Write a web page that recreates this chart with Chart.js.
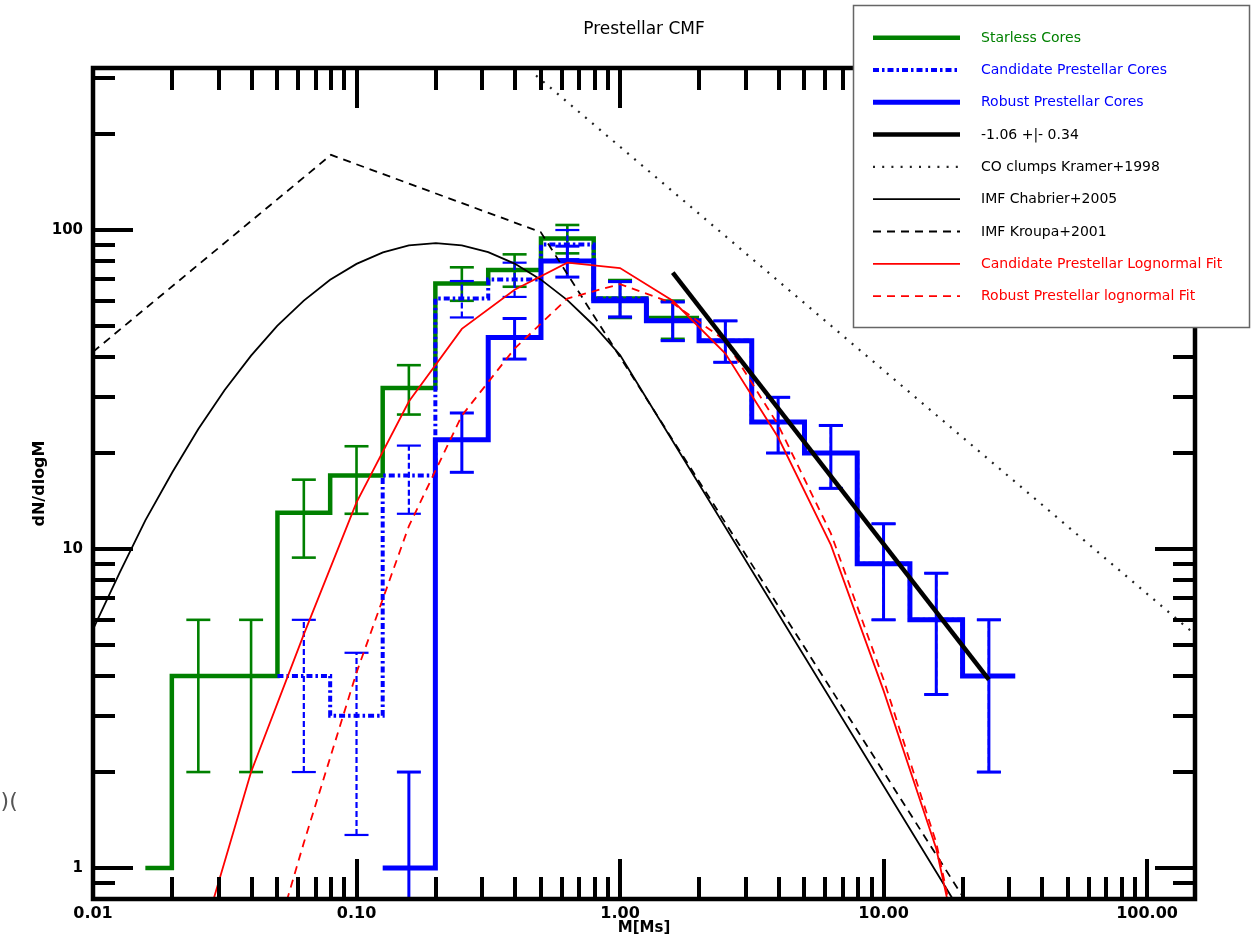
<!DOCTYPE html>
<html>
<head>
<meta charset="utf-8">
<script src="https://cdn.jsdelivr.net/npm/chart.js@4.4.1/dist/chart.umd.min.js"></script>
<style>
  html, body { margin: 0; padding: 0; background: #fff; }
  #wrap { position: relative; width: 1253px; height: 941px; }
</style>
</head>
<body>
<div id="wrap"><canvas id="cmf" width="1253" height="941"></canvas></div>
<script>
// bin centres (0.2 dex bins) in Msun
const binCenters = [0.0158, 0.0251, 0.0398, 0.0631, 0.1, 0.158, 0.251, 0.398, 0.631, 1.0, 1.585, 2.51, 3.98, 6.31, 10, 15.85, 25.1, 39.8];

// dN/dlogM per bin (null = not in series, 0 = empty bin)
const starless  = [1, 4, 4, 13, 17, 32, 68, 75, 94, 61, 53, 0, null, null, null, null, null, null];
const candidate = [null, null, 0, 4, 3, 17, 61, 70, 90, 61, 52, 45, 25, 20, 9, 6, 4, 0];
const robust    = [null, null, null, null, 0, 1, 22, 46, 80, 60, 52, 45, 25, 20, 9, 6, 4, 0];

// error bar ends
const starlessLo = [null, 2, 2, 9.4, 12.9, 26.4, 60, 66.4, 84.5, 53, 45.6, null, null, null, null, null, null, null];
const starlessHi = [null, 6, 6, 16.5, 21, 37.7, 76.4, 83.9, 103.7, 69.7, 60.1, null, null, null, null, null, null, null];
const candLo = [null, null, null, 2, 1.27, 12.9, 53.2, 61.7, 81, 53.4, 45, 38.5, 20, 15.5, 6, 3.5, 2, null];
const candHi = [null, null, null, 6, 4.73, 21.1, 69.2, 79, 100, 68.9, 59.5, 51.9, 29.9, 24.4, 12, 8.4, 6, null];
const robustLo = [null, null, null, null, null, 0, 17.4, 39.4, 71.2, 53.4, 45, 38.5, 20, 15.5, 6, 3.5, 2, null];
const robustHi = [null, null, null, null, null, 2, 26.7, 52.8, 89, 68.9, 59.5, 51.9, 29.9, 24.4, 12, 8.4, 6, null];

// lognormal fits evaluated at the bin centres
const candFit   = [null, 0.55, 2.0, 5.4, 14, 29, 49, 65, 79, 76, 60, 41, 22.4, 10.3, 3.6, 1.15, 0.2, null];
const robustFit = [null, null, 0.33, 1.2, 4.1, 11.8, 26.2, 42.5, 61, 67.7, 59, 45, 24.5, 11.2, 3.9, 1.2, 0.2, null];

// power-law fit to the high-mass tail
const slopeM = [1.585, 25.1];
const slopeV = [73.5, 3.9];

// CO clumps (Kramer+1998)
const coM = [0.48, 150];
const coV = [305, 5.45];

// IMF Chabrier+2005
const chabM = [0.01, 0.0126, 0.0158, 0.02, 0.0251, 0.0316, 0.0398, 0.05, 0.0631, 0.0794, 0.1, 0.126, 0.158, 0.2, 0.251, 0.316, 0.398, 0.501, 0.631, 0.794, 1.0, 20];
const chabV = [5.6, 8.4, 12.3, 17.4, 23.8, 31.5, 40.4, 50.1, 60.1, 69.8, 78.3, 85.1, 89.5, 91, 89.5, 85.2, 78.5, 69.9, 60.3, 50.3, 40.6, 0.71];

// IMF Kroupa+2001
const kroupaM = [0.01, 0.08, 0.5, 30];
const kroupaV = [41.5, 172, 98.5, 0.48];

const xMajor = [0.01, 0.1, 1, 10, 100];
const yMajor = [1, 10, 100];

const GREEN = '#008000', BLUE = '#0000ff', RED = '#ff0000', BLACK = '#000000';

// matplotlib-like 'steps-mid' path, empty bins masked
function stepsMid(ys) {
  const pts = [];
  let prev = -1;
  ys.forEach((v, i) => {
    if (v === null) return;
    const y = v > 0 ? v : null;
    if (prev >= 0) {
      const m = Math.sqrt(binCenters[i] * binCenters[prev]);
      pts.push({x: m, y: ys[prev] > 0 ? ys[prev] : null});
      pts.push({x: m, y: y});
    }
    pts.push({x: binCenters[i], y: y});
    prev = i;
  });
  return pts;
}

// vertical error bars as separate segments; cap flag on ends that get a cap
function errorBars(lo, hi) {
  const pts = [];
  binCenters.forEach((m, i) => {
    if (lo[i] === null || hi[i] === null) return;
    pts.push({x: m, y: lo[i] > 0 ? lo[i] : 0.1, cap: lo[i] > 0});
    pts.push({x: m, y: hi[i], cap: true});
    pts.push({x: m, y: null});
  });
  return pts;
}

function pairs(xs, ys) {
  return xs.map((x, i) => ({x: x, y: ys[i]})).filter(p => p.y !== null);
}

function lineSet(label, data, color, width, dash, order, extra) {
  return Object.assign({
    label: label,
    data: data,
    borderColor: color,
    backgroundColor: color,
    borderWidth: width,
    borderDash: dash,
    borderCapStyle: 'butt',
    borderJoinStyle: 'miter',
    pointRadius: 0,
    pointHitRadius: 0,
    tension: 0,
    fill: false,
    spanGaps: false,
    order: order,
    textColor: BLACK
  }, extra || {});
}

function errSet(lo, hi, color, dash, width, order) {
  return {
    label: '',
    isErr: true,
    data: errorBars(lo, hi),
    borderColor: color,
    borderWidth: width,
    borderDash: dash,
    borderCapStyle: 'butt',
    tension: 0,
    fill: false,
    spanGaps: false,
    pointStyle: 'line',
    pointRadius: (c) => (c.raw && c.raw.cap) ? 12 : 0,
    pointBorderColor: color,
    pointBorderWidth: width,
    pointHitRadius: 0,
    order: order
  };
}

const datasets = [
  lineSet('Starless Cores', stepsMid(starless), GREEN, 4.5, [], 9.5, {textColor: GREEN}),
  lineSet('Candidate Prestellar Cores', stepsMid(candidate), BLUE, 4, [6, 3, 2.5, 3], 8.5, {textColor: BLUE}),
  lineSet('Robust Prestellar Cores', stepsMid(robust), BLUE, 5, [], 7.5, {textColor: BLUE}),
  lineSet('-1.06 +|- 0.34', pairs(slopeM, slopeV), BLACK, 4.5, [], 1),
  lineSet('CO clumps Kramer+1998', pairs(coM, coV), '#222', 2.2, [2, 7.2], 5),
  lineSet('IMF Chabrier+2005', pairs(chabM, chabV), BLACK, 1.8, [], 4),
  lineSet('IMF Kroupa+2001', pairs(kroupaM, kroupaV), BLACK, 1.8, [8, 6], 3),
  lineSet('Candidate Prestellar Lognormal Fit', pairs(binCenters, candFit), RED, 1.8, [], 2, {textColor: RED}),
  lineSet('Robust Prestellar lognormal Fit', pairs(binCenters, robustFit), RED, 1.8, [8, 6], 2, {textColor: RED}),
  errSet(starlessLo, starlessHi, GREEN, [], 2.6, 9),
  errSet(candLo, candHi, BLUE, [6, 3], 2.2, 8),
  errSet(robustLo, robustHi, BLUE, [], 3, 7)
];

const decor = {
  id: 'decor',
  afterDatasetsDraw(chart) {
    const {ctx, chartArea: a, scales: {x, y}} = chart;
    ctx.save();
    ctx.strokeStyle = BLACK;
    ctx.lineWidth = 4;
    ctx.setLineDash([]);
    ctx.lineCap = 'butt';
    // inward ticks on all four sides
    for (let e = -2; e <= 2; e++) {
      for (let k = 1; k <= 9; k++) {
        const v = k * Math.pow(10, e);
        if (v < x.min || v > x.max) continue;
        const px = Math.round(x.getPixelForValue(v));
        const len = k === 1 ? 40 : 22;
        ctx.beginPath();
        ctx.moveTo(px, a.bottom); ctx.lineTo(px, a.bottom - len);
        ctx.moveTo(px, a.top); ctx.lineTo(px, a.top + len);
        ctx.stroke();
      }
    }
    for (let e = -1; e <= 2; e++) {
      for (let k = 1; k <= 9; k++) {
        const v = k * Math.pow(10, e);
        if (v < y.min || v > y.max) continue;
        const py = Math.round(y.getPixelForValue(v));
        const len = k === 1 ? 40 : 22;
        ctx.beginPath();
        ctx.moveTo(a.left, py); ctx.lineTo(a.left + len, py);
        ctx.moveTo(a.right, py); ctx.lineTo(a.right - len, py);
        ctx.stroke();
      }
    }
    ctx.lineWidth = 4.5;
    ctx.strokeRect(a.left, a.top, a.right - a.left, a.bottom - a.top);
    ctx.restore();
  },
  afterDraw(chart) {
    const ctx = chart.ctx;
    ctx.save();
    // legend box
    ctx.fillStyle = '#fff';
    ctx.fillRect(853, 5, 397, 323);
    ctx.strokeStyle = '#666';
    ctx.lineWidth = 1.5;
    ctx.strokeRect(853.5, 5.5, 396, 322);
    chart.data.datasets.filter(ds => !ds.isErr).forEach((ds, i) => {
      const yy = 37.7 + i * 32.3;
      ctx.strokeStyle = ds.borderColor;
      ctx.lineWidth = ds.borderWidth;
      ctx.setLineDash(ds.borderDash);
      ctx.lineCap = 'butt';
      ctx.beginPath();
      ctx.moveTo(873, yy); ctx.lineTo(960, yy);
      ctx.stroke();
      ctx.setLineDash([]);
      ctx.fillStyle = ds.textColor;
      ctx.font = '14px "DejaVu Sans"';
      ctx.textBaseline = 'middle';
      ctx.textAlign = 'left';
      ctx.fillText(ds.label, 981, yy + 0.5);
    });
    // clipped glyphs at the left margin of the original page
    ctx.fillStyle = '#555';
    ctx.font = '22px "DejaVu Sans"';
    ctx.textBaseline = 'middle';
    ctx.fillText('()(', -8, 802);
    ctx.restore();
  }
};

Chart.defaults.font.family = '"DejaVu Sans", sans-serif';
Chart.defaults.color = BLACK;

new Chart(document.getElementById('cmf'), {
  type: 'line',
  data: { datasets: datasets },
  plugins: [decor],
  options: {
    responsive: false,
    animation: false,
    events: [],
    layout: { padding: { left: 0, right: 58, top: 0, bottom: 0 } },
    plugins: {
      legend: { display: false },
      tooltip: { enabled: false },
      title: {
        display: true,
        text: 'Prestellar CMF',
        fullSize: false,
        font: { size: 17, weight: 'normal' },
        color: BLACK,
        padding: { top: 19, bottom: 28.6 }
      }
    },
    scales: {
      x: {
        type: 'logarithmic',
        position: 'bottom',
        min: 0.01,
        max: 152,
        bounds: 'data',
        grid: { display: false },
        border: { display: false },
        afterBuildTicks: (scale) => { scale.ticks = xMajor.map(v => ({value: v})); },
        afterFit: (scale) => { scale.height = 42; },
        ticks: {
          autoSkip: false,
          maxRotation: 0,
          padding: -3,
          font: { size: 16, weight: 'bold' },
          callback: (v) => xMajor.includes(v) ? v.toFixed(2) : ''
        },
        title: {
          display: true,
          text: 'M[Ms]',
          font: { size: 15, weight: 'bold' },
          padding: { top: 0, bottom: 4 }
        }
      },
      y: {
        type: 'logarithmic',
        position: 'left',
        min: 0.8,
        max: 322,
        bounds: 'data',
        grid: { display: false },
        border: { display: false },
        afterBuildTicks: (scale) => { scale.ticks = yMajor.map(v => ({value: v})); },
        afterFit: (scale) => { scale.width = 93; },
        ticks: {
          autoSkip: false,
          padding: 2,
          font: { size: 15, weight: 'bold' },
          callback: (v) => yMajor.includes(v) ? String(v) : ''
        },
        title: {
          display: true,
          text: 'dN/dlogM',
          font: { size: 16, weight: 'bold' },
          padding: { top: 30, bottom: 0 }
        }
      }
    }
  }
});
</script>
</body>
</html>
